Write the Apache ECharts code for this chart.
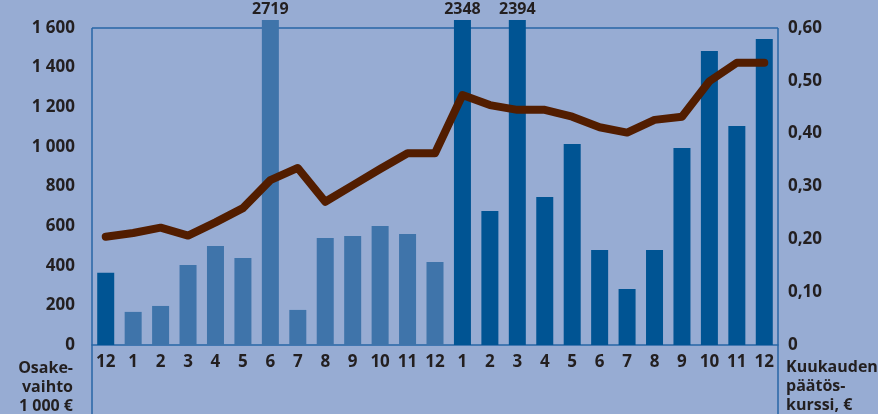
<!DOCTYPE html>
<html>
<head>
<meta charset="utf-8">
<script src="https://cdn.jsdelivr.net/npm/echarts@6/dist/echarts.min.js"></script>
<style>
  html, body { margin: 0; padding: 0; background: #97acd3; }
  #chart { width: 878px; height: 414px; }
</style>
</head>
<body>
<div id="chart"></div>
<script>
// Months: December, then two full years
const months = ['12', '1', '2', '3', '4', '5', '6', '7', '8', '9', '10', '11', '12',
                '1', '2', '3', '4', '5', '6', '7', '8', '9', '10', '11', '12'];
// Share turnover, 1 000 €
const turnover = [365, 167, 197, 404, 500, 439, 2719, 177, 540, 550, 600, 560, 419,
                  2348, 676, 2394, 747, 1014, 479, 283, 479, 994, 1484, 1105, 1544];
// Monthly closing price, €
const closingPrice = [0.205, 0.212, 0.222, 0.207, 0.232, 0.259, 0.312, 0.335, 0.271, 0.302, 0.333, 0.363, 0.363,
                      0.473, 0.454, 0.445, 0.445, 0.432, 0.412, 0.402, 0.426, 0.432, 0.499, 0.534, 0.534];
// Axis ranges
const turnoverTop = 1600;
const turnoverStep = 200;
const priceTop = 0.6;
const priceStep = 0.1;

const FONT = '"Open Sans", "DejaVu Sans", sans-serif';
const FONT_SIZE = 17;
const NAME_SIZE = 16;
const INK = '#231f20';
const BG = '#97acd3';
const FRAME = '#2766a6';
const BAR_LIGHT = '#3f74aa';
const BAR_DARK = '#005493';
const LINE = '#521d00';

// a little headroom above the frame so the tallest bars poke out of it
const headroom = 1.025;
const leftMax = turnoverTop * headroom;
const rightMax = priceTop * headroom;

const chart = echarts.init(document.getElementById('chart'), null, { renderer: 'canvas' });

const gridLeft = 92, gridRight = 100, gridTop = 20, gridBottom = 69;

function fmtThousands(v) {
  return String(v).replace(/\B(?=(\d{3})+(?!\d))/g, ' ');
}
function fmtPrice(v) {
  if (v === 0) return '0';
  return v.toFixed(2).replace('.', ',');
}

const labelBase = { color: INK, fontFamily: FONT, fontWeight: 'bold', fontSize: FONT_SIZE };

chart.setOption({
  backgroundColor: BG,
  animation: false,
  textStyle: { fontFamily: FONT },
  grid: { left: gridLeft, right: gridRight, top: gridTop, bottom: gridBottom, containLabel: false },
  xAxis: {
    type: 'category',
    data: months,
    boundaryGap: true,
    axisLine: { show: true, lineStyle: { color: FRAME, width: 1.5 } },
    axisTick: { show: false },
    axisLabel: Object.assign({ margin: 9, interval: 0 }, labelBase)
  },
  yAxis: [
    {
      type: 'value', min: 0, max: leftMax, interval: turnoverStep,
      axisLine: { show: false }, axisTick: { show: false }, splitLine: { show: false },
      axisLabel: Object.assign({ margin: 17, showMaxLabel: false,
                   formatter: v => (v > turnoverTop ? '' : fmtThousands(v)) }, labelBase)
    },
    {
      type: 'value', min: 0, max: rightMax, interval: priceStep,
      axisLine: { show: false }, axisTick: { show: false }, splitLine: { show: false },
      axisLabel: Object.assign({ margin: 10, showMaxLabel: false,
                   formatter: v => (v > priceTop + 1e-9 ? '' : fmtPrice(v)) }, labelBase)
    }
  ],
  series: [
    {
      type: 'bar',
      yAxisIndex: 0,
      barWidth: 17,
      clip: true,
      data: turnover.map(v => ({
        value: v,
        label: { show: v > turnoverTop }
      })),
      itemStyle: {
        color: p => (p.dataIndex >= 1 && p.dataIndex <= 12 ? BAR_LIGHT : BAR_DARK)
      },
      label: Object.assign({ position: 'top', distance: 3 }, labelBase, { fontSize: NAME_SIZE }),
      z: 2
    },
    {
      type: 'line',
      yAxisIndex: 1,
      data: closingPrice,
      symbol: 'none',
      lineStyle: { color: LINE, width: 8, cap: 'round', join: 'round' },
      z: 3
    }
  ]
});

// Frame: top edge at the top tick, side rules running down past the month labels
const yTop = chart.convertToPixel({ yAxisIndex: 0 }, turnoverTop);
const W = chart.getWidth(), H = chart.getHeight();
const xL = gridLeft, xR = W - gridRight;
const frameStyle = { stroke: FRAME, lineWidth: 1.5 };
const nameStyle = { fill: INK, font: 'bold ' + NAME_SIZE + 'px ' + FONT, lineHeight: 19 };

chart.setOption({
  graphic: [
    { type: 'line', z: 1, shape: { x1: xL, y1: yTop, x2: xR, y2: yTop }, style: frameStyle },
    { type: 'line', z: 1, shape: { x1: xL, y1: yTop, x2: xL, y2: H }, style: frameStyle },
    { type: 'line', z: 1, shape: { x1: xR, y1: yTop, x2: xR, y2: H }, style: frameStyle },
    { type: 'text', z: 5, x: 73, y: 359,
      style: Object.assign({ text: 'Osake-\nvaihto\n1 000 €', align: 'right', verticalAlign: 'top' }, nameStyle) },
    { type: 'text', z: 5, x: 786, y: 358,
      style: Object.assign({ text: 'Kuukauden\npäätös-\nkurssi, €', align: 'left', verticalAlign: 'top' }, nameStyle) }
  ]
});
</script>
</body>
</html>
